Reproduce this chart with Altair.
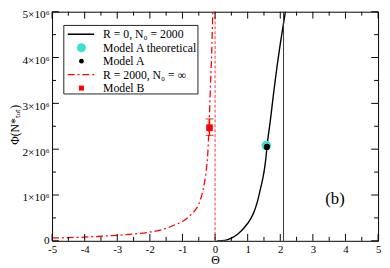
import altair as alt
import pandas as pd

FONT = "Liberation Serif, Times New Roman, Times, serif"

# ---- data ----
red_theta = [-5.0, -4.5, -4.0, -3.5, -3.0, -2.5, -2.0, -1.5, -1.2, -1.0, -0.8, -0.6,
             -0.5, -0.4, -0.33, -0.27, -0.22, -0.18, -0.14, -0.10, -0.07]
red_phi = [0.06, 0.07, 0.08, 0.10, 0.12, 0.15, 0.19, 0.27, 0.36, 0.42, 0.53, 0.68,
           0.80, 1.02, 1.25, 1.54, 1.95, 2.6, 3.4, 4.2, 5.0]

black_theta = [0.05, 0.3, 0.5, 0.7, 0.9, 1.1, 1.2, 1.3, 1.4, 1.5, 1.55, 1.6,
               1.7, 1.8, 1.9, 2.0, 2.1, 2.17]
black_phi = [0.0, 0.01, 0.06, 0.15, 0.29, 0.49, 0.64, 0.86, 1.16, 1.50, 1.75, 2.1,
             2.65, 3.25, 3.8, 4.3, 4.75, 5.05]

red_asym = [0.0]       # dashed vertical red line
black_asym = [2.1]     # thin vertical black line

modelA_theo = {"theta": [1.57], "phi": [2.08]}
modelA = {"theta": [1.59], "phi": [2.05]}
modelB = {"theta": [-0.17], "phi": [2.47], "lo": [2.30], "hi": [2.66]}

x_major = [-5, -4, -3, -2, -1, 0, 1, 2, 3, 4, 5]
x_minor = [-4.5, -3.5, -2.5, -1.5, -0.5, 0.5, 1.5, 2.5, 3.5, 4.5]
x_labels = ["-5", "-4", "-3", "-2", "-1", "0", "1", "2", "3", "4", "5"]
y_major = [0, 1e6, 2e6, 3e6, 4e6, 5e6]
y_minor = [0.5e6, 1.5e6, 2.5e6, 3.5e6, 4.5e6]
y_labels = ["0", "1×10⁶", "2×10⁶", "3×10⁶", "4×10⁶", "5×10⁶"]

legend_labels = ["R = 0, N₀ = 2000", "Model A theoretical", "Model A",
                 "R = 2000, N₀ = ∞", "Model B"]
panel_label = ["(b)"]

W, H = 333, 234
DASHDOT = [7, 3, 2, 3]

# ---- scales / axes ----
xscale = alt.Scale(domain=[-5, 5], nice=False, zero=False)
yscale = alt.Scale(domain=[0, 5e6], nice=False, zero=False)

x_axis = alt.Axis(values=x_major, title="Θ", ticks=False, domain=False, grid=False,
                  labelFont=FONT, labelFontSize=11, labelPadding=3, labelColor="black",
                  labelExpr="[" + ",".join("'%s'" % s for s in x_labels) + "][round(datum.value)+5]",
                  titleFont=FONT, titleFontSize=12, titleFontWeight="normal",
                  titleColor="black", titlePadding=0, labelFlush=False)
y_axis = alt.Axis(values=y_major, title="Φ(N*ₜₒₜ)", ticks=False, domain=False, grid=False,
                  labelFont=FONT, labelFontSize=11.5, labelPadding=3, labelColor="black",
                  labelExpr="[" + ",".join("'%s'" % s for s in y_labels) + "][round(datum.value/1000000)]",
                  labelOffset={"condition": {"test": "datum.value == 0", "value": 0}, "value": 3},
                  labelFlush=False,
                  titleFont=FONT, titleFontSize=12, titleFontWeight="normal", titleColor="black",
                  titleAngle=270, titleAlign="center", titleBaseline="middle",
                  titleX=-38, titleY=115)


def X(f):
    return alt.X(f, scale=xscale, axis=x_axis)


def Y(f):
    return alt.Y(f, scale=yscale, axis=y_axis)


red_df = pd.DataFrame({"theta": red_theta, "phi": [v * 1e6 for v in red_phi]})
black_df = pd.DataFrame({"theta": black_theta, "phi": [v * 1e6 for v in black_phi]})

red_curve = alt.Chart(red_df).mark_line(color="#ff0000", strokeWidth=1.3, strokeDash=DASHDOT,
                                        clip=True, interpolate="monotone").encode(
    x=X("theta:Q"), y=Y("phi:Q"), order="theta:Q")
black_curve = alt.Chart(black_df).mark_line(color="black", strokeWidth=1.4, clip=True,
                                            interpolate="monotone").encode(
    x=X("theta:Q"), y=Y("phi:Q"), order="theta:Q")

red_vline = alt.Chart(pd.DataFrame({"v": red_asym})).mark_rule(
    color="#ff3030", strokeWidth=1, strokeDash=[3, 2]).encode(x=X("v:Q"))
black_vline = alt.Chart(pd.DataFrame({"v": black_asym})).mark_rule(
    color="#333333", strokeWidth=1).encode(x=X("v:Q"))

b_df = pd.DataFrame({"theta": modelB["theta"], "phi": [v * 1e6 for v in modelB["phi"]],
                     "lo": [v * 1e6 for v in modelB["lo"]], "hi": [v * 1e6 for v in modelB["hi"]]})
b_err = alt.Chart(b_df).mark_rule(color="red", strokeWidth=1.3).encode(
    x=X("theta:Q"), y=Y("lo:Q"), y2="hi:Q")
b_cap_lo = alt.Chart(b_df).mark_tick(color="red", orient="horizontal", size=8, thickness=1.3).encode(
    x=X("theta:Q"), y=Y("lo:Q"))
b_cap_hi = alt.Chart(b_df).mark_tick(color="red", orient="horizontal", size=8, thickness=1.3).encode(
    x=X("theta:Q"), y=Y("hi:Q"))
b_pt = alt.Chart(b_df).mark_square(color="red", opacity=1, size=45).encode(
    x=X("theta:Q"), y=Y("phi:Q"))

at_df = pd.DataFrame({"theta": modelA_theo["theta"], "phi": [v * 1e6 for v in modelA_theo["phi"]]})
a_df = pd.DataFrame({"theta": modelA["theta"], "phi": [v * 1e6 for v in modelA["phi"]]})
at_pt = alt.Chart(at_df).mark_circle(color="#40e0d0", opacity=1, size=95).encode(
    x=X("theta:Q"), y=Y("phi:Q"))
a_pt = alt.Chart(a_df).mark_circle(color="black", opacity=1, size=40).encode(
    x=X("theta:Q"), y=Y("phi:Q"))

# inward ticks on all four sides
xM = pd.DataFrame({"v": x_major})
xm = pd.DataFrame({"v": x_minor})
yM = pd.DataFrame({"v": y_major})
ym = pd.DataFrame({"v": y_minor})
tick_layers = []
for df, ln in ((xM, 7), (xm, 4)):
    tick_layers.append(alt.Chart(df).mark_rule(color="black", strokeWidth=1).encode(
        x=X("v:Q"), y=alt.value(H), y2=alt.value(H - ln)))
    tick_layers.append(alt.Chart(df).mark_rule(color="black", strokeWidth=1).encode(
        x=X("v:Q"), y=alt.value(0), y2=alt.value(ln)))
for df, ln in ((yM, 7), (ym, 4)):
    tick_layers.append(alt.Chart(df).mark_rule(color="black", strokeWidth=1).encode(
        y=Y("v:Q"), x=alt.value(0), x2=alt.value(ln)))
    tick_layers.append(alt.Chart(df).mark_rule(color="black", strokeWidth=1).encode(
        y=Y("v:Q"), x=alt.value(W), x2=alt.value(W - ln)))

panel = alt.Chart(pd.DataFrame({"t": panel_label})).mark_text(
    font=FONT, fontSize=17, color="black").encode(
    x=alt.value(289), y=alt.value(191), text="t:N")

main = alt.layer(red_curve, black_curve, red_vline, black_vline, b_err, b_cap_lo, b_cap_hi,
                 b_pt, at_pt, a_pt, panel, *tick_layers)

# ---- legend ----
leg_df = pd.DataFrame({"label": legend_labels})
lscale = alt.Scale(type="point", domain=legend_labels, range=[23, 78], padding=0)
LY = alt.Y("label:N", scale=lscale, axis=None)

box = alt.Chart(pd.DataFrame({"a": [0]})).mark_rect(
    fill="white", stroke="#222222", strokeWidth=1).encode(
    x=alt.value(12), x2=alt.value(149), y=alt.value(14), y2=alt.value(84))
leg_base = alt.Chart(leg_df)
l_black = leg_base.mark_rule(color="black", strokeWidth=1.6).encode(
    y=LY, x=alt.value(16), x2=alt.value(43)).transform_filter(alt.datum.label == legend_labels[0])
l_red = leg_base.mark_rule(color="#ff0000", strokeWidth=1.3, strokeDash=DASHDOT).encode(
    y=LY, x=alt.value(16), x2=alt.value(43)).transform_filter(alt.datum.label == legend_labels[3])
l_theo = leg_base.mark_circle(color="#40e0d0", opacity=1, size=85).encode(
    y=LY, x=alt.value(30)).transform_filter(alt.datum.label == legend_labels[1])
l_a = leg_base.mark_circle(color="black", opacity=1, size=24).encode(
    y=LY, x=alt.value(30)).transform_filter(alt.datum.label == legend_labels[2])
l_b = leg_base.mark_square(color="red", opacity=1, size=26).encode(
    y=LY, x=alt.value(30)).transform_filter(alt.datum.label == legend_labels[4])
l_text = leg_base.mark_text(font=FONT, fontSize=12, align="left", baseline="middle",
                            color="black").encode(y=LY, x=alt.value(52), text="label:N")

legend = alt.layer(box, l_black, l_red, l_theo, l_a, l_b, l_text)

chart = alt.layer(main, legend).resolve_scale(y="independent").properties(
    width=W, height=H, autosize="none",
    padding={"left": 45, "top": 1, "right": 4, "bottom": 27},
).configure_view(stroke="black", strokeWidth=1)

chart.save("out.html", embed_options={"renderer": "svg", "actions": False})
